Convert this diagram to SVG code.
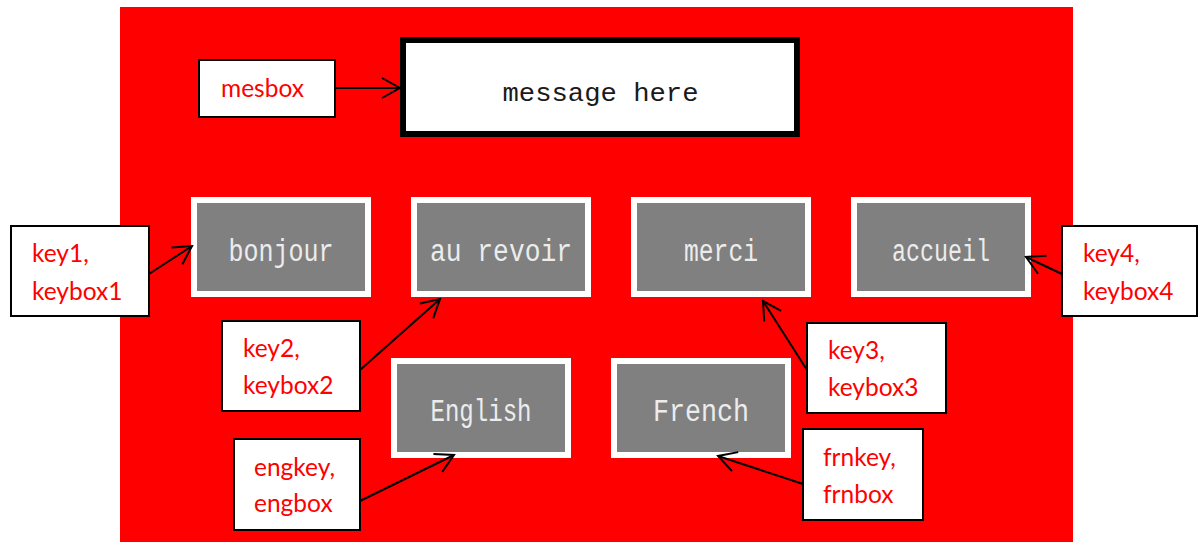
<svg xmlns="http://www.w3.org/2000/svg" width="1198" height="542" viewBox="0 0 1198 542">
  <style>
    .key-frame { fill: #ffffff; }
    .key-face { fill: #808080; }
    .key-label { font-family: "Liberation Mono", "DejaVu Sans Mono", monospace; font-size: 31px; fill: #ececec; text-anchor: middle; }
    .msg-label { font-family: "Liberation Mono", "DejaVu Sans Mono", monospace; font-size: 26px; fill: #1a1a1a; text-anchor: middle; }
    .callout { fill: #ffffff; stroke: #000000; stroke-width: 2; }
    .callout-text { font-family: Lato, "Liberation Sans", sans-serif; font-size: 24.5px; fill: #ff0000; }
    .link { fill: none; stroke: #000000; stroke-width: 2; marker-end: url(#open-arrow); }
  </style>
  <defs>
    <marker id="open-arrow" markerUnits="userSpaceOnUse" viewBox="-22 -12 24 24" refX="0" refY="0" markerWidth="24" markerHeight="24" orient="auto">
      <path d="M-18,-10 L0,0 L-18,10" fill="none" stroke="#000000" stroke-width="2"/>
    </marker>
  </defs>

  <rect x="0" y="0" width="1198" height="542" fill="#ffffff"/>
  <!-- screen background -->
  <rect id="screen" x="120" y="7" width="953" height="535" fill="#ff0000"/>

  <!-- message display -->
  <g id="message-box">
    <rect x="403" y="40" width="394" height="94" fill="#ffffff" stroke="#000000" stroke-width="6"/>
    <text class="msg-label" x="600.5" y="101" textLength="196" lengthAdjust="spacingAndGlyphs" xml:space="preserve">message here</text>
  </g>

  <!-- phrase keys -->
  <g id="key-bonjour">
    <rect class="key-frame" x="191" y="197" width="180" height="100"/>
    <rect class="key-face" x="197" y="203" width="168" height="88"/>
    <text class="key-label" x="281" y="261" textLength="105" lengthAdjust="spacingAndGlyphs">bonjour</text>
  </g>
  <g id="key-aurevoir">
    <rect class="key-frame" x="411" y="197" width="180" height="100"/>
    <rect class="key-face" x="417" y="203" width="168" height="88"/>
    <text class="key-label" x="501" y="261" textLength="142" lengthAdjust="spacingAndGlyphs" xml:space="preserve">au revoir</text>
  </g>
  <g id="key-merci">
    <rect class="key-frame" x="631" y="197" width="180" height="100"/>
    <rect class="key-face" x="637" y="203" width="168" height="88"/>
    <text class="key-label" x="721" y="261" textLength="74" lengthAdjust="spacingAndGlyphs">merci</text>
  </g>
  <g id="key-accueil">
    <rect class="key-frame" x="851" y="197" width="180" height="100"/>
    <rect class="key-face" x="857" y="203" width="168" height="88"/>
    <text class="key-label" x="941" y="261" textLength="98" lengthAdjust="spacingAndGlyphs">accueil</text>
  </g>

  <!-- language keys -->
  <g id="key-english">
    <rect class="key-frame" x="391" y="358" width="180" height="100"/>
    <rect class="key-face" x="397" y="364" width="168" height="88"/>
    <text class="key-label" x="481" y="421" textLength="101" lengthAdjust="spacingAndGlyphs">English</text>
  </g>
  <g id="key-french">
    <rect class="key-frame" x="611" y="358" width="180" height="100"/>
    <rect class="key-face" x="617" y="364" width="168" height="88"/>
    <text class="key-label" x="701" y="421" textLength="96" lengthAdjust="spacingAndGlyphs">French</text>
  </g>

  <!-- name callouts -->
  <g id="note-mesbox">
    <rect class="callout" x="199" y="60" width="136" height="57"/>
    <text class="callout-text" x="221" y="97">mesbox</text>
  </g>
  <g id="note-key1">
    <rect class="callout" x="11" y="226" width="138" height="90"/>
    <text class="callout-text" x="32" y="262">key1,</text>
    <text class="callout-text" x="32" y="300">keybox1</text>
  </g>
  <g id="note-key2">
    <rect class="callout" x="222" y="321" width="138" height="90"/>
    <text class="callout-text" x="243" y="357">key2,</text>
    <text class="callout-text" x="243" y="394">keybox2</text>
  </g>
  <g id="note-key3">
    <rect class="callout" x="807" y="323" width="139" height="90"/>
    <text class="callout-text" x="828" y="359">key3,</text>
    <text class="callout-text" x="828" y="396">keybox3</text>
  </g>
  <g id="note-key4">
    <rect class="callout" x="1062" y="226" width="135" height="90"/>
    <text class="callout-text" x="1083" y="262">key4,</text>
    <text class="callout-text" x="1083" y="300">keybox4</text>
  </g>
  <g id="note-engkey">
    <rect class="callout" x="234" y="439" width="126" height="91"/>
    <text class="callout-text" x="254" y="476">engkey,</text>
    <text class="callout-text" x="254" y="512">engbox</text>
  </g>
  <g id="note-frnkey">
    <rect class="callout" x="803" y="429" width="120" height="91"/>
    <text class="callout-text" x="823" y="466">frnkey,</text>
    <text class="callout-text" x="823" y="503">frnbox</text>
  </g>

  <!-- pointers from callouts to widgets -->
  <g id="connectors">
    <line class="link" x1="335" y1="88" x2="400" y2="88"/>
    <line class="link" x1="149" y1="274" x2="192" y2="246"/>
    <line class="link" x1="360" y1="370" x2="440" y2="299"/>
    <line class="link" x1="807" y1="370" x2="763" y2="301"/>
    <line class="link" x1="1062" y1="274" x2="1026" y2="257"/>
    <line class="link" x1="360" y1="501" x2="454" y2="455"/>
    <line class="link" x1="803" y1="484" x2="718" y2="456"/>
  </g>
</svg>
